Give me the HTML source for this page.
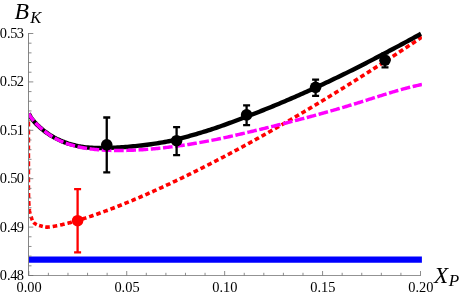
<!DOCTYPE html>
<html><head><meta charset="utf-8"><title>B_K vs X_P</title>
<style>
html,body{margin:0;padding:0;background:#fff;}
svg{display:block;font-family:"Liberation Serif",serif;}
</style></head>
<body>
<svg width="460" height="295" viewBox="0 0 460 295">
<rect width="460" height="295" fill="#fff"/>
<defs><filter id="g" x="-5%" y="-5%" width="110%" height="110%" color-interpolation-filters="sRGB"><feColorMatrix type="saturate" values="0"/></filter><clipPath id="c"><rect x="28.8" y="20" width="393.09999999999997" height="260"/></clipPath></defs>
<g clip-path="url(#c)" fill="none">
<path d="M28.40,113.60 L28.40,114.15 L28.40,114.83 L28.40,115.65 L28.40,116.33 L28.40,117.15 L28.40,117.84 L28.40,118.53 M28.40,121.55 L28.40,122.21 L28.40,122.90 L28.40,123.58 L28.40,124.40 L28.40,125.08 L28.40,125.77 L28.40,126.48 M28.40,129.50 L28.40,130.14 L28.40,130.83 L28.40,131.51 L28.40,132.33 L28.40,133.01 L28.40,133.70 L28.40,134.43 M28.40,137.45 L28.40,138.07 L28.40,138.76 L28.40,139.44 L28.40,140.26 L28.40,140.94 L28.40,141.63 L28.40,142.38 M28.40,145.40 L28.40,146.00 L28.40,146.69 L28.40,147.37 L28.40,148.19 L28.40,148.87 L28.40,149.56 L28.40,150.33 M28.40,153.35 L28.40,153.93 L28.40,154.62 L28.40,155.30 L28.40,156.12 L28.40,156.80 L28.40,157.49 L28.40,158.28 M28.40,161.30 L28.40,161.86 L28.40,162.54 L28.40,163.23 L28.40,164.05 L28.40,164.73 L28.40,165.41 L28.40,166.23 M28.40,169.25 L28.40,169.93 L28.40,170.61 L28.40,171.29 L28.40,172.11 L28.40,172.80 L28.40,173.48 L28.40,174.18 M28.40,177.20 L28.40,177.85 L28.40,178.54 L28.40,179.22 L28.40,180.04 L28.40,180.73 L28.40,181.41 L28.40,182.13 M28.40,185.15 L28.40,185.78 L28.40,186.47 L28.41,187.15 L28.41,187.97 L28.42,188.66 L28.43,189.34 L28.43,190.08 M28.48,193.10 L28.49,193.71 L28.51,194.40 L28.52,195.08 L28.54,195.90 L28.56,196.59 L28.58,197.27 L28.60,198.03 M28.69,201.05 L28.71,201.64 L28.74,202.32 L28.78,203.01 L28.83,203.83 L28.88,204.52 L28.93,205.20 L28.99,205.97 M29.28,208.97 L29.35,209.55 L29.43,210.22 L29.53,210.89 L29.68,211.70 L29.83,212.37 L30.00,213.04 L30.20,213.81 M31.09,216.69 L31.23,217.10 L31.40,217.64 L31.59,218.17 L31.78,218.71 L31.98,219.24 L32.20,219.77 L32.43,220.30 M33.68,222.40 L33.96,222.71 L34.35,223.08 L34.78,223.44 L35.25,223.77 L35.73,224.08 L36.21,224.35 L36.78,224.63 M39.09,225.45 L39.54,225.58 L40.07,225.72 L40.60,225.86 L41.13,226.01 L41.66,226.16 L42.19,226.31 L42.80,226.47 M45.20,226.99 L45.82,227.07 L46.50,227.13 L47.17,227.15 L47.85,227.12 L48.53,227.06 L49.21,226.98 L49.78,226.91 M52.70,226.51 L53.28,226.41 L53.95,226.30 L54.63,226.18 L55.30,226.06 L55.97,225.94 L56.65,225.81 L57.23,225.70 M60.11,225.10 L60.66,224.97 L61.33,224.82 L61.99,224.67 L62.66,224.52 L63.32,224.36 L63.99,224.20 L64.60,224.05 M67.45,223.33 L67.97,223.20 L68.63,223.02 L69.29,222.85 L69.95,222.67 L70.61,222.49 L71.27,222.31 L71.90,222.13 M74.73,221.33 L75.34,221.15 L76.00,220.96 L76.66,220.77 L77.31,220.57 L77.96,220.38 L78.62,220.18 L79.15,220.02 M81.96,219.15 L82.54,218.97 L83.19,218.76 L83.84,218.55 L84.49,218.34 L85.14,218.13 L85.79,217.92 L86.35,217.74 M89.14,216.82 L89.69,216.64 L90.33,216.42 L90.98,216.20 L91.63,215.98 L92.28,215.76 L92.92,215.54 L93.50,215.34 M96.28,214.37 L96.80,214.19 L97.44,213.96 L98.09,213.73 L98.73,213.50 L99.37,213.27 L100.02,213.04 L100.62,212.82 M103.39,211.82 L103.87,211.64 L104.51,211.40 L105.15,211.16 L105.79,210.93 L106.43,210.69 L107.07,210.45 L107.71,210.21 M110.46,209.17 L111.04,208.95 L111.67,208.70 L112.31,208.46 L112.95,208.21 L113.59,207.96 L114.23,207.72 L114.76,207.51 M117.50,206.44 L118.04,206.22 L118.68,205.97 L119.31,205.72 L119.95,205.46 L120.58,205.21 L121.22,204.96 L121.78,204.73 M124.51,203.63 L125.02,203.42 L125.65,203.16 L126.29,202.90 L126.92,202.64 L127.55,202.38 L128.18,202.12 L128.77,201.88 M131.49,200.75 L131.97,200.55 L132.60,200.29 L133.23,200.02 L133.86,199.76 L134.49,199.49 L135.12,199.22 L135.73,198.97 M138.44,197.81 L139.02,197.56 L139.65,197.29 L140.28,197.02 L140.90,196.75 L141.53,196.48 L142.16,196.21 L142.67,195.99 M145.37,194.81 L145.92,194.57 L146.54,194.30 L147.17,194.02 L147.80,193.74 L148.42,193.47 L149.05,193.19 L149.58,192.95 M152.27,191.76 L152.79,191.52 L153.42,191.24 L154.04,190.96 L154.66,190.68 L155.29,190.40 L155.91,190.12 L156.47,189.86 M159.15,188.65 L159.64,188.42 L160.26,188.14 L160.89,187.85 L161.51,187.57 L162.13,187.28 L162.75,187.00 L163.34,186.73 M166.01,185.49 L166.59,185.22 L167.21,184.93 L167.83,184.64 L168.45,184.35 L169.07,184.06 L169.69,183.77 L170.25,183.50 M172.96,182.23 L173.52,181.96 L174.14,181.67 L174.76,181.37 L175.38,181.08 L175.99,180.79 L176.61,180.49 L177.19,180.21 M179.89,178.92 L180.43,178.66 L181.05,178.36 L181.66,178.07 L182.28,177.77 L182.89,177.47 L183.51,177.17 L184.11,176.88 M186.80,175.57 L187.32,175.32 L187.93,175.02 L188.55,174.71 L189.16,174.41 L189.77,174.11 L190.39,173.81 L191.01,173.50 M193.69,172.17 L194.19,171.93 L194.80,171.63 L195.41,171.32 L196.02,171.02 L196.63,170.71 L197.24,170.41 L197.89,170.08 M200.56,168.74 L201.15,168.44 L201.76,168.13 L202.37,167.83 L202.98,167.52 L203.59,167.21 L204.20,166.90 L204.74,166.63 M207.41,165.27 L207.98,164.98 L208.59,164.67 L209.20,164.35 L209.81,164.04 L210.41,163.73 L211.02,163.42 L211.58,163.13 M214.24,161.76 L214.79,161.48 L215.40,161.16 L216.00,160.85 L216.61,160.53 L217.22,160.22 L217.82,159.90 L218.40,159.60 M221.06,158.21 L221.58,157.94 L222.18,157.62 L222.79,157.30 L223.39,156.99 L224.00,156.67 L224.60,156.35 L225.20,156.03 M227.85,154.63 L228.35,154.37 L228.95,154.05 L229.56,153.73 L230.16,153.40 L230.76,153.08 L231.37,152.76 L231.99,152.43 M234.63,151.02 L235.22,150.70 L235.83,150.37 L236.43,150.05 L237.03,149.73 L237.63,149.40 L238.23,149.08 L238.75,148.80 M241.39,147.37 L241.96,147.06 L242.56,146.74 L243.16,146.41 L243.76,146.08 L244.36,145.75 L244.96,145.43 L245.50,145.13 M248.13,143.70 L248.68,143.39 L249.28,143.06 L249.88,142.74 L250.48,142.41 L251.08,142.08 L251.68,141.75 L252.24,141.44 M254.86,139.99 L255.39,139.70 L255.98,139.36 L256.58,139.03 L257.18,138.70 L257.78,138.37 L258.37,138.04 L258.95,137.71 M261.57,136.25 L262.07,135.97 L262.67,135.63 L263.27,135.30 L263.86,134.97 L264.46,134.63 L265.05,134.30 L265.65,133.96 M268.26,132.49 L268.74,132.21 L269.34,131.88 L269.93,131.54 L270.53,131.20 L271.12,130.87 L271.72,130.53 L272.34,130.18 M274.94,128.70 L275.52,128.36 L276.11,128.02 L276.71,127.69 L277.30,127.35 L277.89,127.01 L278.49,126.67 L279.01,126.37 M281.60,124.88 L282.16,124.55 L282.75,124.21 L283.34,123.87 L283.94,123.53 L284.53,123.19 L285.12,122.84 L285.66,122.53 M288.25,121.03 L288.79,120.72 L289.38,120.37 L289.97,120.03 L290.56,119.69 L291.15,119.34 L291.74,119.00 L292.30,118.67 M294.88,117.16 L295.40,116.86 L295.99,116.51 L296.58,116.17 L297.17,115.82 L297.75,115.47 L298.34,115.13 L298.92,114.79 M301.50,113.26 L301.99,112.97 L302.58,112.62 L303.17,112.28 L303.76,111.93 L304.35,111.58 L304.93,111.23 L305.53,110.87 M308.10,109.34 L308.58,109.06 L309.16,108.71 L309.75,108.36 L310.34,108.01 L310.92,107.66 L311.51,107.31 L312.13,106.94 M314.69,105.40 L315.26,105.06 L315.85,104.71 L316.43,104.35 L317.02,104.00 L317.60,103.65 L318.19,103.29 L318.71,102.98 M321.27,101.43 L321.81,101.10 L322.40,100.75 L322.98,100.39 L323.57,100.04 L324.15,99.68 L324.74,99.33 L325.28,99.00 M327.83,97.44 L328.36,97.12 L328.94,96.77 L329.52,96.41 L330.11,96.05 L330.69,95.70 L331.27,95.34 L331.83,95.00 M334.38,93.43 L334.88,93.12 L335.46,92.76 L336.05,92.40 L336.63,92.05 L337.21,91.69 L337.79,91.33 L338.37,90.97 M340.92,89.40 L341.40,89.10 L341.98,88.74 L342.56,88.38 L343.14,88.02 L343.72,87.66 L344.30,87.30 L344.90,86.92 M347.44,85.34 L348.01,84.98 L348.59,84.62 L349.17,84.26 L349.75,83.90 L350.33,83.53 L350.91,83.17 L351.41,82.86 M353.95,81.26 L354.50,80.92 L355.08,80.55 L355.66,80.19 L356.24,79.83 L356.81,79.46 L357.39,79.10 L357.91,78.77 M360.45,77.17 L360.98,76.83 L361.55,76.47 L362.13,76.10 L362.71,75.74 L363.29,75.37 L363.86,75.00 L364.40,74.66 M366.93,73.05 L367.44,72.73 L368.02,72.36 L368.59,71.99 L369.17,71.63 L369.74,71.26 L370.32,70.89 L370.88,70.53 M373.40,68.92 L373.89,68.60 L374.46,68.24 L375.04,67.87 L375.61,67.50 L376.19,67.13 L376.76,66.76 L377.34,66.39 M379.86,64.76 L380.33,64.46 L380.90,64.09 L381.48,63.72 L382.05,63.35 L382.62,62.98 L383.20,62.61 L383.79,62.22 M386.31,60.59 L386.87,60.23 L387.44,59.85 L388.01,59.48 L388.59,59.11 L389.16,58.73 L389.73,58.36 L390.23,58.03 M392.74,56.40 L393.28,56.05 L393.85,55.67 L394.43,55.30 L395.00,54.92 L395.57,54.55 L396.14,54.17 L396.66,53.83 M399.17,52.19 L399.68,51.85 L400.25,51.47 L400.83,51.10 L401.40,50.72 L401.97,50.34 L402.54,49.97 L403.08,49.61 M405.58,47.96 L406.07,47.63 L406.64,47.25 L407.21,46.88 L407.78,46.50 L408.35,46.12 L408.92,45.74 L409.48,45.37 M411.98,43.71 L412.45,43.40 L413.02,43.02 L413.59,42.64 L414.16,42.26 L414.73,41.88 L415.30,41.50 L415.88,41.12 M418.37,39.45 L418.71,39.22 L419.27,38.84 L419.84,38.46 L420.41,38.08 L420.98,37.70 L421.55,37.32 L422.00,37.02" stroke="#ff0000" stroke-width="3.6"/>
<path d="M28.8,259.55 H422" stroke="#0000ff" stroke-width="6.2"/>
<path d="M28.80,113.53 L30.77,117.36 L32.74,119.98 L34.71,122.26 L36.68,124.34 L38.65,126.25 L40.63,128.02 L42.60,129.66 L44.57,131.21 L46.54,132.65 L48.51,134.00 L50.48,135.27 L52.45,136.46 L54.42,137.58 L56.39,138.62 L58.36,139.60 L60.33,140.51 L62.30,141.36 L64.28,142.15 L66.25,142.87 L68.22,143.55 L70.19,144.17 L72.16,144.73 L74.13,145.24 L76.10,145.71 L78.07,146.12 L80.04,146.48 L82.01,146.80 L83.98,147.07 L85.95,147.31 L87.93,147.51 L89.90,147.67 L91.87,147.80 L93.84,147.90 L95.81,147.97 L97.78,148.02 L99.75,148.04 L101.72,148.04 L103.69,148.02 L105.66,147.98 L107.63,147.93 L109.61,147.85 L111.58,147.77 L113.55,147.67 L115.52,147.58 L117.49,147.47 L119.46,147.36 L121.43,147.24 L123.40,147.12 L125.37,146.98 L127.34,146.83 L129.31,146.67 L131.28,146.49 L133.26,146.30 L135.23,146.10 L137.20,145.88 L139.17,145.66 L141.14,145.44 L143.11,145.20 L145.08,144.96 L147.05,144.72 L149.02,144.46 L150.99,144.20 L152.96,143.92 L154.93,143.64 L156.91,143.34 L158.88,143.03 L160.85,142.70 L162.82,142.37 L164.79,142.01 L166.76,141.64 L168.73,141.25 L170.70,140.83 L172.67,140.40 L174.64,139.94 L176.61,139.47 L178.58,138.97 L180.56,138.46 L182.53,137.94 L184.50,137.40 L186.47,136.86 L188.44,136.30 L190.41,135.74 L192.38,135.17 L194.35,134.60 L196.32,134.02 L198.29,133.44 L200.26,132.85 L202.24,132.25 L204.21,131.64 L206.18,131.03 L208.15,130.41 L210.12,129.78 L212.09,129.14 L214.06,128.49 L216.03,127.82 L218.00,127.15 L219.97,126.46 L221.94,125.77 L223.91,125.06 L225.89,124.36 L227.86,123.64 L229.83,122.93 L231.80,122.20 L233.77,121.48 L235.74,120.74 L237.71,120.01 L239.68,119.27 L241.65,118.52 L243.62,117.78 L245.59,117.03 L247.56,116.27 L249.54,115.52 L251.51,114.76 L253.48,113.99 L255.45,113.22 L257.42,112.45 L259.39,111.68 L261.36,110.90 L263.33,110.11 L265.30,109.32 L267.27,108.53 L269.24,107.73 L271.22,106.92 L273.19,106.11 L275.16,105.30 L277.13,104.48 L279.10,103.66 L281.07,102.83 L283.04,102.00 L285.01,101.17 L286.98,100.33 L288.95,99.48 L290.92,98.64 L292.89,97.78 L294.87,96.92 L296.84,96.06 L298.81,95.19 L300.78,94.32 L302.75,93.44 L304.72,92.56 L306.69,91.68 L308.66,90.79 L310.63,89.89 L312.60,88.99 L314.57,88.09 L316.54,87.18 L318.52,86.27 L320.49,85.36 L322.46,84.44 L324.43,83.52 L326.40,82.59 L328.37,81.66 L330.34,80.72 L332.31,79.78 L334.28,78.84 L336.25,77.89 L338.22,76.94 L340.19,75.99 L342.17,75.03 L344.14,74.07 L346.11,73.10 L348.08,72.12 L350.05,71.14 L352.02,70.16 L353.99,69.18 L355.96,68.18 L357.93,67.19 L359.90,66.19 L361.87,65.19 L363.85,64.18 L365.82,63.17 L367.79,62.16 L369.76,61.14 L371.73,60.12 L373.70,59.10 L375.67,58.07 L377.64,57.04 L379.61,56.01 L381.58,54.98 L383.55,53.94 L385.52,52.90 L387.50,51.86 L389.47,50.82 L391.44,49.78 L393.41,48.73 L395.38,47.68 L397.35,46.63 L399.32,45.57 L401.29,44.52 L403.26,43.45 L405.23,42.39 L407.20,41.33 L409.17,40.26 L411.15,39.19 L413.12,38.11 L415.09,37.04 L417.06,35.96 L419.03,34.88 L421.00,33.80" stroke="#000" stroke-width="4.4"/>
<path d="M28.80,113.61 L29.29,114.64 L29.89,115.73 L30.61,116.85 L31.35,117.86 L32.16,118.93 L32.93,119.90 L33.79,120.93 M35.49,122.85 L36.35,123.77 L37.36,124.81 L38.31,125.76 L39.36,126.76 L40.34,127.67 L41.42,128.63 L42.49,129.55 M44.48,131.18 L45.50,131.97 L46.66,132.84 L47.75,133.63 L48.94,134.45 L50.05,135.20 L51.27,135.99 L52.43,136.70 M54.65,138.00 L55.82,138.65 L57.01,139.28 L58.30,139.93 L59.51,140.52 L60.82,141.13 L62.05,141.67 L63.36,142.22 M65.76,143.15 L66.96,143.58 L68.33,144.05 L69.61,144.47 L70.99,144.89 L72.28,145.27 L73.67,145.66 L75.01,146.01 M77.51,146.62 L78.79,146.91 L80.11,147.19 L81.53,147.47 L82.85,147.72 L84.27,147.98 L85.60,148.20 L87.02,148.43 M89.57,148.79 L90.81,148.96 L92.25,149.13 L93.58,149.29 L95.02,149.44 L96.36,149.57 L97.80,149.70 L99.20,149.82 M101.77,150.01 L103.06,150.09 L104.50,150.17 L105.84,150.24 L107.29,150.30 L108.63,150.36 L110.08,150.40 L111.45,150.44 M114.02,150.49 L115.35,150.51 L116.69,150.52 L118.14,150.52 L119.48,150.52 L120.93,150.51 L122.27,150.50 L123.70,150.48 M126.28,150.42 L127.54,150.39 L128.99,150.34 L130.33,150.30 L131.78,150.24 L133.12,150.18 L134.57,150.12 L135.96,150.05 M138.53,149.91 L139.83,149.84 L141.28,149.75 L142.62,149.66 L144.06,149.56 L145.40,149.47 L146.84,149.36 L148.19,149.26 M150.76,149.05 L152.00,148.94 L153.44,148.82 L154.78,148.69 L156.22,148.56 L157.55,148.43 L158.99,148.29 L160.40,148.14 M162.96,147.87 L164.24,147.73 L165.67,147.56 L167.01,147.41 L168.44,147.24 L169.78,147.08 L171.21,146.90 L172.58,146.73 M175.13,146.39 L176.44,146.22 L177.77,146.04 L179.21,145.84 L180.54,145.65 L181.97,145.44 L183.30,145.25 L184.72,145.04 M187.26,144.65 L188.51,144.45 L189.94,144.23 L191.27,144.01 L192.69,143.78 L194.02,143.56 L195.45,143.32 L196.82,143.09 M199.36,142.64 L200.64,142.42 L202.06,142.16 L203.39,141.92 L204.81,141.66 L206.13,141.41 L207.55,141.15 L208.88,140.89 M211.41,140.40 L212.73,140.14 L214.05,139.88 L215.46,139.59 L216.78,139.33 L218.20,139.03 L219.51,138.76 L220.90,138.47 M223.42,137.93 L224.67,137.66 L226.08,137.35 L227.40,137.07 L228.81,136.75 L230.12,136.46 L231.53,136.14 L232.88,135.84 M235.39,135.27 L236.67,134.97 L237.98,134.67 L239.39,134.34 L240.70,134.04 L242.11,133.71 L243.42,133.40 L244.82,133.07 M247.33,132.48 L248.55,132.19 L249.95,131.85 L251.26,131.54 L252.67,131.20 L253.97,130.89 L255.38,130.55 L256.74,130.22 M259.25,129.62 L260.50,129.31 L261.91,128.97 L263.22,128.65 L264.62,128.31 L265.93,127.99 L267.33,127.65 L268.66,127.32 M271.16,126.71 L272.45,126.39 L273.76,126.06 L275.16,125.71 L276.46,125.39 L277.87,125.04 L279.17,124.71 L280.56,124.36 M283.05,123.74 L284.28,123.42 L285.69,123.07 L286.99,122.74 L288.39,122.38 L289.69,122.05 L291.09,121.69 L292.44,121.34 M294.93,120.69 L296.20,120.36 L297.60,120.00 L298.90,119.66 L300.30,119.29 L301.60,118.95 L302.99,118.58 L304.30,118.23 M306.78,117.57 L307.99,117.25 L309.39,116.87 L310.68,116.52 L312.08,116.15 L313.38,115.79 L314.77,115.41 L316.13,115.04 M318.62,114.36 L319.86,114.02 L321.25,113.63 L322.54,113.27 L323.94,112.88 L325.23,112.52 L326.63,112.12 L327.94,111.75 M330.42,111.05 L331.70,110.68 L332.99,110.31 L334.38,109.91 L335.67,109.54 L337.06,109.14 L338.35,108.76 L339.73,108.36 M342.20,107.64 L343.41,107.28 L344.79,106.87 L346.08,106.48 L347.47,106.07 L348.76,105.68 L350.14,105.27 L351.48,104.86 M353.94,104.11 L355.19,103.73 L356.57,103.31 L357.85,102.91 L359.24,102.49 L360.52,102.09 L361.90,101.66 L363.19,101.25 M365.65,100.48 L366.93,100.08 L368.21,99.67 L369.59,99.23 L370.87,98.83 L372.25,98.39 L373.53,97.98 L374.88,97.55 M377.33,96.77 L378.55,96.38 L379.93,95.94 L381.21,95.54 L382.59,95.11 L383.88,94.71 L385.26,94.28 L386.57,93.87 M389.03,93.11 L390.30,92.73 L391.58,92.34 L392.97,91.93 L394.26,91.54 L395.65,91.14 L396.94,90.76 L398.32,90.36 M400.80,89.66 L402.01,89.33 L403.41,88.95 L404.70,88.60 L406.10,88.23 L407.40,87.89 L408.80,87.53 L410.16,87.18 M412.66,86.57 L413.92,86.27 L415.23,85.97 L416.64,85.64 L417.95,85.35 L419.37,85.05 L420.68,84.77 L422.00,84.50" stroke="#ff00ff" stroke-width="3.45"/>
</g>
<path d="M106.75,117.5 L106.75,172.4 M103.25,117.5 L110.25,117.5 M103.25,172.4 L110.25,172.4" stroke="#000" stroke-width="2.3" fill="none"/><circle cx="106.75" cy="144.8" r="5.8" fill="#000"/><path d="M176.6,127.1 L176.6,155.1 M173.1,127.1 L180.1,127.1 M173.1,155.1 L180.1,155.1" stroke="#000" stroke-width="2.3" fill="none"/><circle cx="176.6" cy="140.7" r="5.8" fill="#000"/><path d="M246.6,105.4 L246.6,125.2 M243.1,105.4 L250.1,105.4 M243.1,125.2 L250.1,125.2" stroke="#000" stroke-width="2.3" fill="none"/><circle cx="246.6" cy="114.9" r="5.8" fill="#000"/><path d="M315.6,79.7 L315.6,95.9 M312.1,79.7 L319.1,79.7 M312.1,95.9 L319.1,95.9" stroke="#000" stroke-width="2.3" fill="none"/><circle cx="315.6" cy="87.3" r="5.8" fill="#000"/><path d="M385,53.4 L385,67.3 M381.5,53.4 L388.5,53.4 M381.5,67.3 L388.5,67.3" stroke="#000" stroke-width="2.3" fill="none"/><circle cx="385" cy="60.2" r="5.8" fill="#000"/>
<path d="M77.6,189.2 L77.6,252.4 M74.1,189.2 L81.1,189.2 M74.1,252.4 L81.1,252.4" stroke="#ff0000" stroke-width="2.3" fill="none"/><circle cx="77.6" cy="220.7" r="5.8" fill="#ff0000"/>
<path d="M28.5,33 V275.5" stroke="#858585" stroke-width="1" fill="none"/><path d="M28,275.5 H420.9" stroke="#939393" stroke-width="1" fill="none"/>
<path d="M28.8,33.50 h4.5 M28.8,43.18 h2.7 M28.8,52.86 h2.7 M28.8,62.54 h2.7 M28.8,72.22 h2.7 M28.8,81.90 h4.5 M28.8,91.58 h2.7 M28.8,101.26 h2.7 M28.8,110.94 h2.7 M28.8,120.62 h2.7 M28.8,130.30 h4.5 M28.8,139.98 h2.7 M28.8,149.66 h2.7 M28.8,159.34 h2.7 M28.8,169.02 h2.7 M28.8,178.70 h4.5 M28.8,188.38 h2.7 M28.8,198.06 h2.7 M28.8,207.74 h2.7 M28.8,217.42 h2.7 M28.8,227.10 h4.5 M28.8,236.78 h2.7 M28.8,246.46 h2.7 M28.8,256.14 h2.7 M28.8,265.82 h2.7 M28.8,275.50 h4.5 M28.80,275.5 v-4.5 M48.39,275.5 v-2.7 M67.97,275.5 v-2.7 M87.55,275.5 v-2.7 M107.14,275.5 v-2.7 M126.72,275.5 v-4.5 M146.31,275.5 v-2.7 M165.90,275.5 v-2.7 M185.48,275.5 v-2.7 M205.06,275.5 v-2.7 M224.65,275.5 v-4.5 M244.24,275.5 v-2.7 M263.82,275.5 v-2.7 M283.40,275.5 v-2.7 M302.99,275.5 v-2.7 M322.57,275.5 v-4.5 M342.16,275.5 v-2.7 M361.75,275.5 v-2.7 M381.33,275.5 v-2.7 M400.92,275.5 v-2.7 M420.50,275.5 v-4.5" stroke="#6e6e6e" stroke-width="0.8" fill="none"/>
<g font-size="14.4px" fill="#000" filter="url(#g)"><text x="-0.2 7.1 10.35 16.7" transform="translate(0 38.0) scale(1 1.05)">0.53</text><text x="-0.2 7.1 10.35 16.7" transform="translate(0 86.4) scale(1 1.05)">0.52</text><text x="-0.2 7.1 10.35 16.7" transform="translate(0 134.8) scale(1 1.05)">0.51</text><text x="-0.2 7.1 10.35 16.7" transform="translate(0 183.2) scale(1 1.05)">0.50</text><text x="-0.2 7.1 10.35 16.7" transform="translate(0 231.6) scale(1 1.05)">0.49</text><text x="-0.2 7.1 10.35 16.7" transform="translate(0 280.0) scale(1 1.05)">0.48</text><text transform="translate(29.1 291.9) scale(1 1.05)" text-anchor="middle">0.00</text><text transform="translate(127.0 291.9) scale(1 1.05)" text-anchor="middle">0.05</text><text transform="translate(224.9 291.9) scale(1 1.05)" text-anchor="middle">0.10</text><text transform="translate(322.8 291.9) scale(1 1.05)" text-anchor="middle">0.15</text><text transform="translate(420.8 291.9) scale(1 1.05)" text-anchor="middle">0.20</text></g>
<g font-style="italic" filter="url(#g)"><text x="14.4" y="18.5" font-size="23.8px">B</text><text x="30.3" y="22.7" font-size="16.5px">K</text>
<text x="433.9" y="282.7" font-size="23.2px">X</text><text x="448.7" y="286.3" font-size="17.1px">P</text></g>
</svg>
</body></html>
